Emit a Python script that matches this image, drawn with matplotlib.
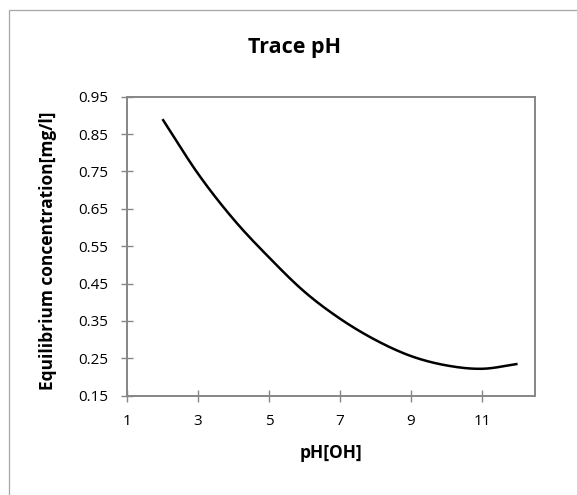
import numpy as np
import matplotlib
matplotlib.use("Agg")
import matplotlib.pyplot as plt
from matplotlib.patches import Rectangle

# Data
ph_values = [2, 3, 4, 5, 6, 7, 8, 9, 10, 11, 12]
concentration = [0.890, 0.744, 0.622, 0.520, 0.428, 0.356, 0.299, 0.256, 0.231, 0.222, 0.235]
x_ticks = [1, 3, 5, 7, 9, 11]
y_ticks = [0.15, 0.25, 0.35, 0.45, 0.55, 0.65, 0.75, 0.85, 0.95]
title = "Trace pH"
x_label = "pH[OH]"
y_label = "Equilibrium concentration[mg/l]"


def smooth_curve(xs, ys, n=30):
    """Catmull-Rom rendering of the smoothed line (like Excel's smoothed line)."""
    xs = np.asarray(xs, float)
    ys = np.asarray(ys, float)
    P = np.column_stack([xs, ys])
    P = np.vstack([P[0] - (P[1] - P[0]), P, P[-1] + (P[-1] - P[-2])])
    out = []
    t = np.linspace(0, 1, n, endpoint=False)[:, None]
    for i in range(1, len(P) - 2):
        p0, p1, p2, p3 = P[i - 1], P[i], P[i + 1], P[i + 2]
        seg = 0.5 * ((2 * p1) + (-p0 + p2) * t + (2 * p0 - 5 * p1 + 4 * p2 - p3) * t ** 2
                     + (-p0 + 3 * p1 - 3 * p2 + p3) * t ** 3)
        out.append(seg)
    out.append(P[-2][None, :])
    out = np.vstack(out)
    return out[:, 0], out[:, 1]


plt.rcParams['font.family'] = ['Open Sans', 'DejaVu Sans']

fig = plt.figure(figsize=(5.77, 4.95), dpi=100)
fig.patch.set_facecolor("white")

# outer chart border (top and left visible)
fig.add_artist(Rectangle((9 / 577, -0.1), 1.2, 1 - 10 / 495 + 0.1, transform=fig.transFigure,
                         fill=False, edgecolor="#a6a6a6", linewidth=0.9))

ax = fig.add_axes([127 / 577, 1 - 395.7 / 495, (535.3 - 127) / 577, (395.7 - 96.7) / 495])

sx, sy = smooth_curve(ph_values, concentration)
ax.plot(sx, sy, color="black", linewidth=1.8, solid_capstyle="butt")

ax.set_xlim(1, 12.5)
ax.set_ylim(0.15, 0.95)
ax.set_xticks(x_ticks)
ax.set_yticks(y_ticks)
ax.set_yticklabels([f"{v:.2f}" for v in y_ticks])
ax.set_xticklabels([str(v) for v in x_ticks])

for s in ax.spines.values():
    s.set_color("#868686")
    s.set_linewidth(1.4)

ax.tick_params(axis="both", direction="inout", length=8, width=1.0, color="#868686",
               labelsize=11, labelcolor="black")
ax.tick_params(axis="y", pad=9.5)
ax.tick_params(axis="x", pad=9.0)

ax.set_xlabel(x_label, fontsize=12.5, fontweight="bold", va="center", ha="center")
ax.set_ylabel(y_label, fontsize=12.5, fontweight="bold", va="center", ha="center")
ax.xaxis.set_label_coords(0.5, (395.7 - 453) / 299.0)
ax.yaxis.set_label_coords((48 - 127) / 408.3, 0.5 + (246.2 - 250.5) / 299.0)

fig.text(295 / 577, 1 - 47.5 / 495, title, ha="center", va="center", fontsize=15.5,
         fontweight="bold")

fig.savefig("out.png", dpi=100, facecolor="white")
